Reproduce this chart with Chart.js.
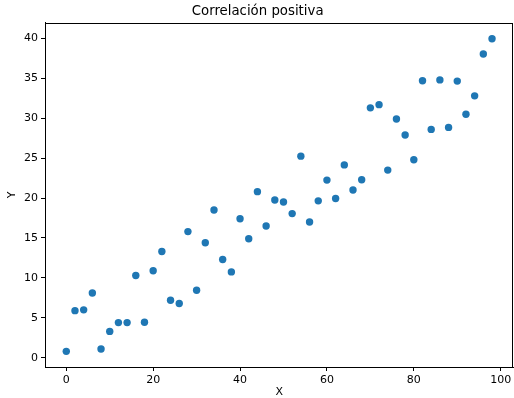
<!DOCTYPE html>
<html>
<head>
<meta charset="utf-8">
<script src="https://cdn.jsdelivr.net/npm/chart.js@4/dist/chart.umd.min.js"></script>
<style>
  html, body { margin: 0; padding: 0; background: #fff; overflow: hidden; }
  #clip { width: 514px; height: 398px; overflow: hidden; }
  canvas { display: block; }
</style>
</head>
<body>
<div id="clip"><canvas id="chart" width="517" height="398"></canvas></div>
<script>
// data
var xValues = [0, 2, 4, 6, 8, 10, 12, 14, 16, 18, 20, 22, 24, 26, 28, 30, 32, 34, 36, 38,
  40, 42, 44, 46, 48, 50, 52, 54, 56, 58, 60, 62, 64, 66, 68, 70, 72, 74, 76, 78,
  80, 82, 84, 86, 88, 90, 92, 94, 96, 98];
var yValues = [0.8, 5.9, 6.0, 8.1, 1.1, 3.3, 4.4, 4.4, 10.3, 4.45, 10.9, 13.3, 7.2, 6.8, 15.8, 8.45, 14.4, 18.5, 12.3, 10.75,
  17.4, 14.9, 20.8, 16.5, 19.75, 19.5, 18.05, 25.25, 17.0, 19.65, 22.25, 19.95, 24.15, 21.0, 22.3, 31.3, 31.7, 23.5, 29.9, 27.9,
  24.8, 34.7, 28.6, 34.8, 28.85, 34.65, 30.5, 32.8, 38.05, 39.95];
var xTicks = [0, 20, 40, 60, 80, 100];
var yTicks = [0, 5, 10, 15, 20, 25, 30, 35, 40];

var points = xValues.map(function(x, i) { return { x: x, y: yValues[i] }; });

var frame = {
  id: 'frame',
  afterDraw: function(chart) {
    var a = chart.chartArea, c = chart.ctx;
    c.save();
    c.strokeStyle = '#000';
    c.lineWidth = 1;
    c.strokeRect(Math.round(a.left) + 0.5, Math.round(a.top) + 0.5,
      Math.round(a.right - a.left) - 1, Math.round(a.bottom - a.top));
    c.restore();
  }
};

var tickFont = { family: 'DejaVu Sans', size: 11 };

var ctx = document.getElementById('chart').getContext('2d');
var myChart = new Chart(ctx, {
  type: 'scatter',
  data: {
    datasets: [{
      data: points,
      backgroundColor: '#1f77b4',
      borderWidth: 0,
      pointRadius: 3.7,
      pointHoverRadius: 3.7
    }]
  },
  options: {
    responsive: false,
    animation: false,
    layout: { padding: { left: 0, right: 1.7, top: 0, bottom: 0 } },
    plugins: {
      legend: { display: false },
      tooltip: { enabled: false },
      title: {
        display: true,
        text: 'Correlación positiva',
        color: '#000',
        font: { family: 'DejaVu Sans', size: 13.3, weight: 'normal', lineHeight: 1.2 },
        padding: { top: 4, bottom: 3 }
      }
    },
    scales: {
      x: {
        type: 'linear',
        min: -4.9,
        max: 102.9,
        afterBuildTicks: function(s) { s.ticks = xTicks.map(function(v) { return { value: v }; }); },
        afterFit: function(s) { s.height = 31; },
        grid: { drawOnChartArea: false, color: '#000', tickLength: 4 },
        border: { color: '#000' },
        ticks: { color: '#000', font: tickFont, padding: 3, maxRotation: 0 },
        title: {
          display: true, text: 'X', color: '#000',
          font: { family: 'DejaVu Sans', size: 11, lineHeight: 1 },
          padding: { top: 0, bottom: 0 }
        }
      },
      y: {
        type: 'linear',
        min: -1.16,
        max: 41.93,
        afterBuildTicks: function(s) { s.ticks = yTicks.map(function(v) { return { value: v }; }); },
        afterFit: function(s) { s.width = 45; },
        grid: { drawOnChartArea: false, color: '#000', tickLength: 4 },
        border: { color: '#000' },
        ticks: { color: '#000', font: tickFont, padding: 3 },
        title: {
          display: true, text: 'Y', color: '#000',
          font: { family: 'DejaVu Sans', size: 11, lineHeight: 1 },
          padding: { top: 7, bottom: 0 }
        }
      }
    }
  },
  plugins: [frame]
});
</script>
</body>
</html>
